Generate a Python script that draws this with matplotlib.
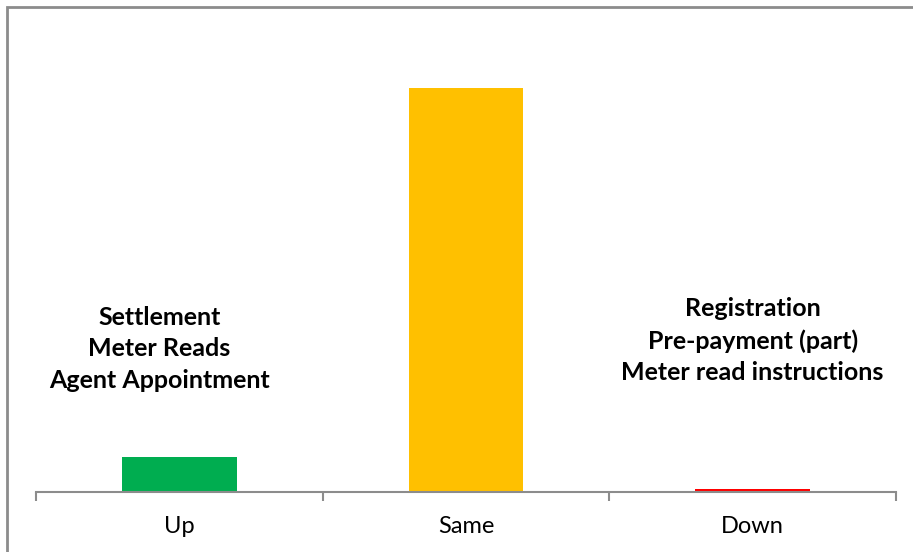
import matplotlib.pyplot as plt
from matplotlib.patches import Rectangle

categories = ['Up', 'Same', 'Down']
values = [8.0, 92.0, 0.7]
colors = ['#00AD50', '#FFC000', '#FF0000']
notes = ['Settlement\nMeter Reads\nAgent Appointment',
         '',
         'Registration\nPre-payment (part)\nMeter read instructions']

plt.rcParams['font.family'] = ['Lato', 'DejaVu Sans']

fig = plt.figure(figsize=(9.13, 5.52), dpi=100)
fig.patches.append(Rectangle((7 / 913, -0.1), 1.2, (552 - 7) / 552 + 0.1,
                             transform=fig.transFigure, fill=False,
                             edgecolor='#8c8c8c', linewidth=2))

ax = fig.add_axes([36 / 913, 60 / 552, 860 / 913, 462 / 552])
x = range(len(categories))
ax.bar(x, values, width=0.4, color=colors)

ax.set_xlim(-0.5, 2.5)
ax.set_ylim(0, 105.2)
for s in ['top', 'right', 'left']:
    ax.spines[s].set_visible(False)
ax.spines['bottom'].set_color('#8c8c8c')
ax.spines['bottom'].set_linewidth(1.5)
ax.set_yticks([])

ax.set_xticks(list(x))
ax.set_xticklabels(categories, fontsize=17)
ax.tick_params(axis='x', which='major', length=0, pad=17.5)
ax.set_xticks([-0.5, 0.5, 1.5, 2.5], minor=True)
ax.tick_params(axis='x', which='minor', length=6.5, width=1.5, color='#8c8c8c')

# text notes over the bars
ax.text(-0.07, 32.6, notes[0], ha='center', va='center', fontsize=18,
        fontweight='bold', linespacing=1.45)
ax.text(2.0, 34.4, notes[2], ha='center', va='center', fontsize=18,
        fontweight='bold', linespacing=1.45)

fig.savefig('out.png', dpi=100)
